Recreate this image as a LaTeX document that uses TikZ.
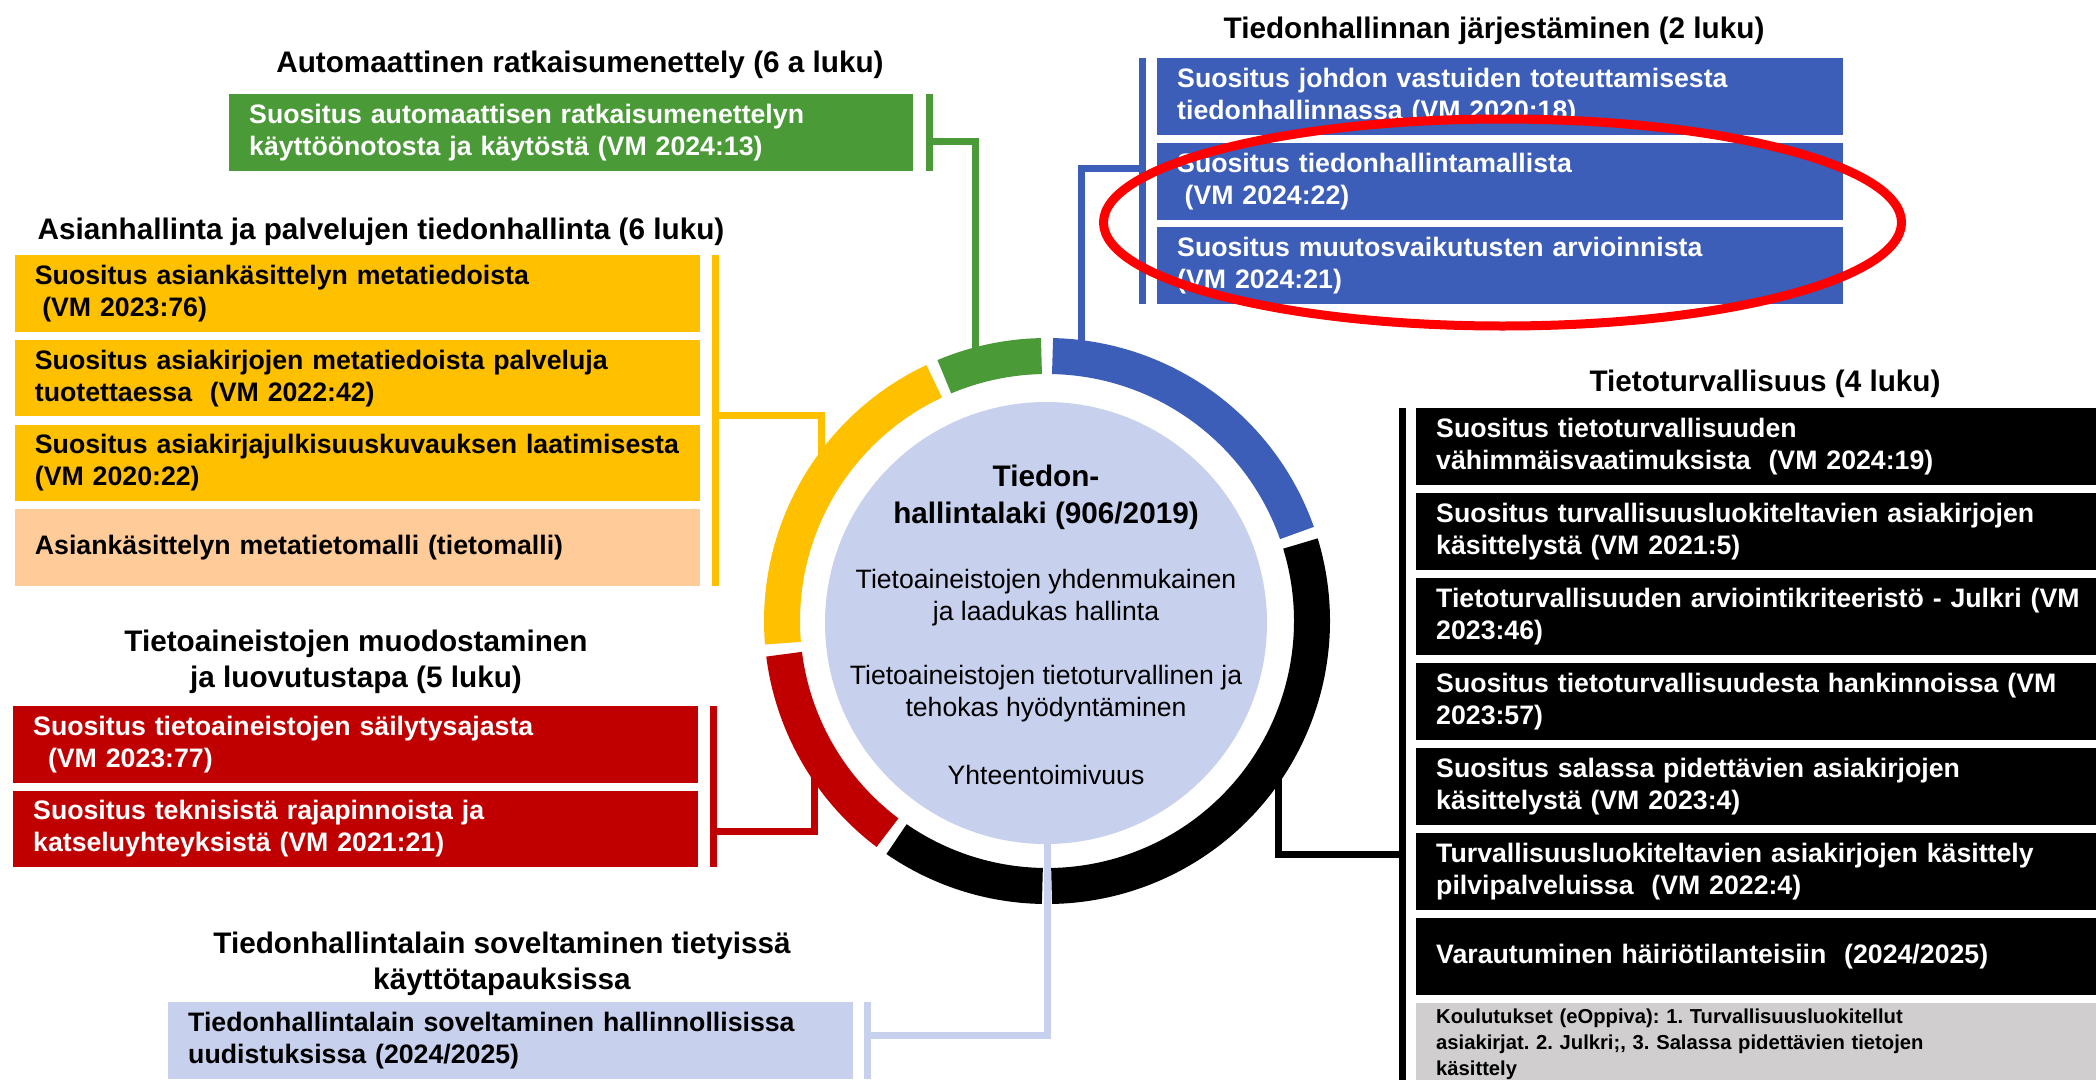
\documentclass[tikz,border=0pt]{standalone}
\usepackage{fontspec}
\setmainfont{Liberation Sans}
\frenchspacing
\definecolor{blueC}{HTML}{3C5DB8}
\definecolor{greenC}{HTML}{4A9A38}
\definecolor{yellowC}{HTML}{FFC000}
\definecolor{peachC}{HTML}{FFCC99}
\definecolor{redC}{HTML}{C00000}
\definecolor{grayC}{HTML}{D0CECE}
\definecolor{lavC}{HTML}{C7D0EC}
\newcommand\myBoxFont{\fontsize{26.7pt}{32pt}\selectfont\bfseries}
\newcommand\myTitleFont{\fontsize{29.7pt}{36pt}\selectfont\bfseries}
\newcommand\myDiscTitleFont{\fontsize{29.7pt}{37pt}\selectfont\bfseries}
\newcommand\myDiscFont{\fontsize{26.6pt}{32pt}\selectfont}
\newcommand\myGrayFont{\fontsize{20.2pt}{26pt}\selectfont\bfseries\frenchspacing}
\begin{document}
\begin{tikzpicture}[x=1pt,y=-1pt,
  card/.style={rectangle, anchor=north west, inner xsep=20pt, inner ysep=0pt,
    minimum height=76.5pt, text width=645pt, align=left, font=\myBoxFont},
  greencard/.style={card, fill=greenC, text=white, text width=644pt},
  yellowcard/.style={card, fill=yellowC, text=black},
  peachcard/.style={card, fill=peachC, text=black},
  redcard/.style={card, fill=redC, text=white},
  lavcard/.style={card, fill=lavC, text=black, minimum height=77pt},
  bluecard/.style={card, fill=blueC, text=white, text width=646pt, minimum height=77pt},
  blackcard/.style={card, fill=black, text=white, text width=684pt, minimum height=77pt},
  graycard/.style={card, fill=grayC, text=black, text width=684pt, minimum height=84pt, font=\myGrayFont},
  ttl/.style={align=center, font=\myTitleFont, inner sep=0pt},
  disctitle/.style={align=center, font=\myDiscTitleFont, inner sep=0pt},
  disctext/.style={align=center, font=\myDiscFont, inner sep=0pt},
  conn/.style={line width=7pt, line join=miter},
  seg/.style={line width=36pt},
]
\useasboundingbox (0,0) rectangle (2096,1079);
\clip (0,0) rectangle (2096,1079);

% ---------- titles ----------
\node[ttl] (tGreen) at (580,65) {Automaattinen ratkaisumenettely (6 a luku)};
\node[ttl] (tYellow) at (381,231.5) {Asianhallinta ja palvelujen tiedonhallinta (6 luku)};
\node[ttl] (tRed) at (356,662) {Tietoaineistojen muodostaminen\\ja luovutustapa (5 luku)};
\node[ttl] (tLav) at (502,963.5) {Tiedonhallintalain soveltaminen tietyissä\\käyttötapauksissa};
\node[ttl] (tBlue) at (1494,30.5) {Tiedonhallinnan järjestäminen (2 luku)};
\node[ttl] (tBlack) at (1765,383.5) {Tietoturvallisuus (4 luku)};

% ---------- green ----------
\node[greencard] (g1) at (229,94) {Suositus automaattisen ratkaisumenettelyn\\käyttöönotosta ja käytöstä (VM 2024:13)};

% ---------- yellow ----------
\node[yellowcard] (y1) at (14.7,255) {Suositus asiankäsittelyn metatiedoista\\\hspace*{7.4pt}(VM 2023:76)};
\node[yellowcard] (y2) at (14.7,339.7) {Suositus asiakirjojen metatiedoista palveluja\\tuotettaessa\ \ (VM 2022:42)};
\node[yellowcard] (y3) at (14.7,424.4) {Suositus asiakirjajulkisuuskuvauksen laatimisesta\\(VM 2020:22)};
\node[peachcard] (y4) at (14.7,509.1) {Asiankäsittelyn metatietomalli (tietomalli)};

% ---------- red ----------
\node[redcard] (r1) at (13,706) {Suositus tietoaineistojen säilytysajasta\\\hspace*{14.8pt}(VM 2023:77)};
\node[redcard] (r2) at (13,790.5) {Suositus teknisistä rajapinnoista ja\\katseluyhteyksistä (VM 2021:21)};

% ---------- lavender ----------
\node[lavcard] (l1) at (168,1002) {Tiedonhallintalain soveltaminen hallinnollisissa\\uudistuksissa (2024/2025)};

% ---------- blue ----------
\node[bluecard] (b1) at (1157,58) {Suositus johdon vastuiden toteuttamisesta\\tiedonhallinnassa (VM 2020:18)};
\node[bluecard] (b2) at (1157,142.5) {Suositus tiedonhallintamallista\\\hspace*{7.4pt}(VM 2024:22)};
\node[bluecard] (b3) at (1157,227) {Suositus muutosvaikutusten arvioinnista\\(VM 2024:21)};

% ---------- black ----------
\node[blackcard] (k1) at (1416,408) {Suositus tietoturvallisuuden\\vähimmäisvaatimuksista\ \ (VM 2024:19)};
\node[blackcard] (k2) at (1416,492.9) {Suositus turvallisuusluokiteltavien asiakirjojen\\käsittelystä (VM 2021:5)};
\node[blackcard] (k3) at (1416,577.8) {Tietoturvallisuuden arviointikriteeristö - Julkri (VM\\2023:46)};
\node[blackcard] (k4) at (1416,662.7) {Suositus tietoturvallisuudesta hankinnoissa (VM\\2023:57)};
\node[blackcard] (k5) at (1416,747.6) {Suositus salassa pidettävien asiakirjojen\\käsittelystä (VM 2023:4)};
\node[blackcard] (k6) at (1416,832.5) {Turvallisuusluokiteltavien asiakirjojen käsittely\\pilvipalveluissa\ \ (VM 2022:4)};
\node[blackcard] (k7) at (1416,917.4) {Varautuminen häiriötilanteisiin\ \ (2024/2025)};
\node[graycard] (k8) at (1416,1002.3) {Koulutukset (eOppiva): 1. Turvallisuusluokitellut\\asiakirjat. 2. Julkri;, 3. Salassa pidettävien tietojen\\käsittely};

% ---------- ring centre ----------
\coordinate (c) at (1047,621);

% ---------- connectors ----------
% green
\coordinate (gTop) at ([xshift=16pt]g1.north east);
\coordinate (gBot) at ([xshift=16pt]g1.south east);
\coordinate (gMid) at (929,141.3);
\coordinate (gRing) at (975.3,360);
\draw[conn, greenC] (gTop) -- (gBot);
\draw[conn, greenC] (gMid) -| (gRing);
% yellow
\coordinate (yTop) at ([xshift=15.7pt]y1.north east);
\coordinate (yBot) at ([xshift=15.7pt]y4.south east);
\coordinate (yMid) at (715.7,415);
\coordinate (yRing) at (821.5,472);
\draw[conn, yellowC] (yTop) -- (yBot);
\draw[conn, yellowC] (yMid) -| (yRing);
% red
\coordinate (rTop) at ([xshift=15.5pt]r1.north east);
\coordinate (rBot) at ([xshift=15.5pt]r2.south east);
\coordinate (rMid) at (713.5,831);
\coordinate (rRing) at (814,757);
\draw[conn, redC] (rTop) -- (rBot);
\draw[conn, redC] (rMid) -| (rRing);
% lavender
\coordinate (lTop) at ([xshift=14.5pt]l1.north east);
\coordinate (lBot) at ([xshift=14.5pt]l1.south east);
\coordinate (lMid) at (867.5,1035);
\coordinate (lRing) at (1047,830);
\draw[conn, lavC] (lTop) -- (lBot);
\draw[conn, lavC] (lMid) -| (lRing);
% blue
\coordinate (bTop) at ([xshift=-14.5pt]b1.north west);
\coordinate (bBot) at ([xshift=-14.5pt]b3.south west);
\coordinate (bMid) at (1142.5,168.3);
\coordinate (bRing) at (1081.3,353);
\draw[conn, blueC] (bTop) -- (bBot);
\draw[conn, blueC] (bMid) -| (bRing);
% black
\coordinate (kTop) at ([xshift=-14pt]k1.north west);
\coordinate (kBot) at (1402,1085);
\coordinate (kMid) at (1402,854.5);
\coordinate (kRing) at (1278,760);
\draw[conn, black] (kTop) -- (kBot);
\draw[conn, black] (kMid) -| (kRing);

% ---------- ring ----------
\draw[seg, blueC]   ([shift={(19.4:265pt)}]c)  arc[start angle=19.4,  end angle=88.8,  radius=265pt];
\draw[seg, greenC]  ([shift={(91.2:265pt)}]c)  arc[start angle=91.2,  end angle=112.8, radius=265pt];
\draw[seg, yellowC] ([shift={(115.2:265pt)}]c) arc[start angle=115.2, end angle=184.8, radius=265pt];
\draw[seg, redC]    ([shift={(187.2:265pt)}]c) arc[start angle=187.2, end angle=233.0, radius=265pt];
\draw[seg, black]   ([shift={(235.4:265pt)}]c) arc[start angle=235.4, end angle=269.0, radius=265pt];
\draw[seg, black]   ([shift={(271.0:265pt)}]c) arc[start angle=271.0, end angle=377.0, radius=265pt];

% ---------- disc ----------
\node[circle, fill=lavC, minimum size=442pt, inner sep=0pt] (disc) at (1046,623) {};
\node[disctitle] (dT) at (1046,497) {Tiedon-\\hallintalaki (906/2019)};
\node[disctext] (d1) at (1046,597.5) {Tietoaineistojen yhdenmukainen\\ja laadukas hallinta};
\node[disctext] (d2) at (1046,693.5) {Tietoaineistojen tietoturvallinen ja\\tehokas hyödyntäminen};
\node[disctext] (d3) at (1046,774.5) {Yhteentoimivuus};

% ---------- highlight ----------
\draw[line width=9pt, red] (1502.5,222.5) ellipse [x radius=399pt, y radius=103.5pt];
\end{tikzpicture}
\end{document}
